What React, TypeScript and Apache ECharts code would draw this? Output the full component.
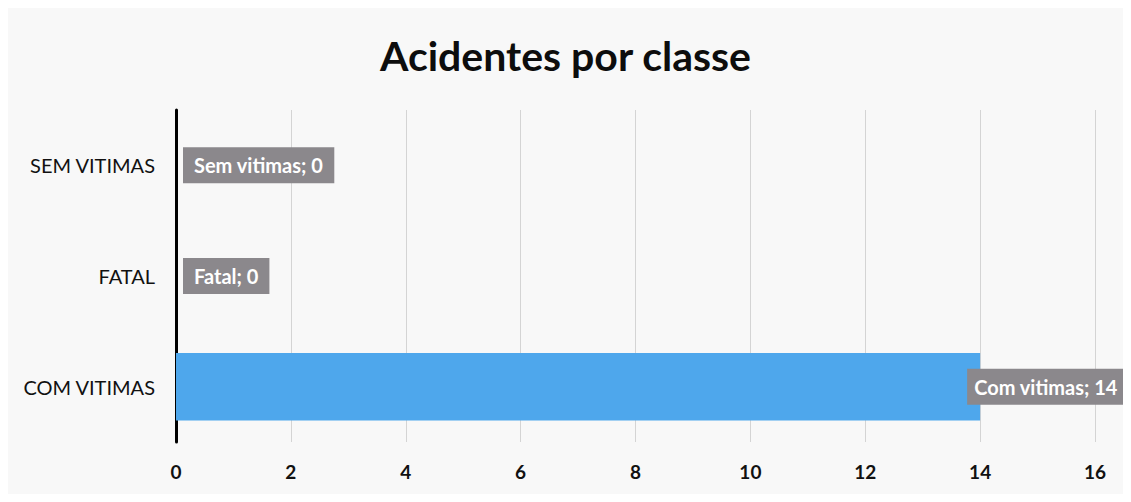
import React, { useEffect, useRef } from "react";
import * as echarts from "echarts";

const categories = ["COM VITIMAS", "FATAL", "SEM VITIMAS"];
const labelNames = ["Com vitimas", "Fatal", "Sem vitimas"];
const values = [14, 0, 0];
const xTicks = { min: 0, max: 16, interval: 2 };

export default function App() {
  const ref = useRef<HTMLDivElement>(null);
  useEffect(() => {
    if (!ref.current) return;
    const chart = echarts.init(ref.current, null, { renderer: "svg" });
    const font = "Lato, 'Open Sans', sans-serif";
    chart.setOption({
      animation: false,
      backgroundColor: "#f8f8f8",
      title: {
        text: "Acidentes por classe",
        left: "center",
        top: 30,
        textStyle: { fontFamily: font, fontSize: 41, fontWeight: "bold", color: "#0d0d0d" },
      },
      grid: { left: 176, right: 36, top: 110, bottom: 60, containLabel: false },
      xAxis: {
        type: "value",
        min: xTicks.min,
        max: xTicks.max,
        interval: xTicks.interval,
        axisLine: { show: false },
        axisTick: { show: false },
        splitLine: { show: true, lineStyle: { color: "#d4d4d4", width: 1 } },
        axisLabel: { fontFamily: font, fontSize: 19, fontWeight: "bold", color: "#111", margin: 20 },
      },
      yAxis: {
        type: "category",
        data: categories,
        axisLine: { show: true, lineStyle: { color: "#000", width: 3 } },
        axisTick: { show: false },
        axisLabel: { fontFamily: font, fontSize: 20, color: "#111", margin: 21 },
      },
      series: [
        {
          type: "bar",
          barWidth: "61%",
          data: values.map((v, i) => ({
            value: v,
            label: {
              show: true,
              position: "right",
              distance: 5,
              offset: v > 0 ? [-18, 0] : [2, 0],
              formatter: `${labelNames[i]}; ${v}`,
              backgroundColor: "#8b888c",
              color: "#fff",
              fontFamily: font,
              fontWeight: "bold",
              fontSize: 20,
              padding: v > 0 ? [8, 7, 8, 7] : [8, 11, 8, 11],
            },
          })),
          itemStyle: { color: "#4ea7ec" },
        },
      ],
    });
    return () => chart.dispose();
  }, []);
  return <div ref={ref} style={{ width: 1131, height: 502, margin: -8 }} />;
}
